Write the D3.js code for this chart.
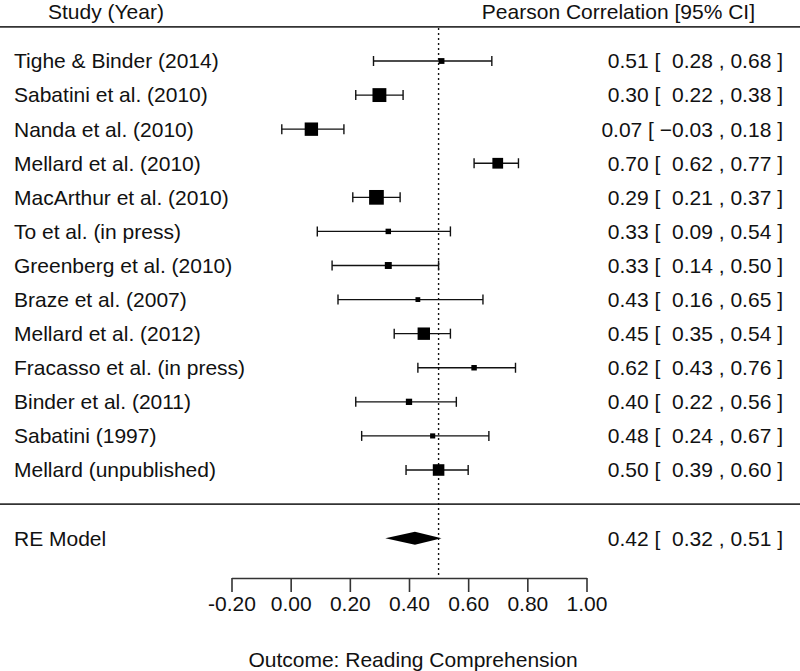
<!DOCTYPE html>
<html><head><meta charset="utf-8">
<script src="https://cdn.jsdelivr.net/npm/d3@7"></script>
<style>
body{margin:0;background:#fff;}
text{font-family:"Liberation Sans",Arial,sans-serif;fill:#111;}
</style></head><body>
<svg id="c" width="800" height="671"></svg>
<script>
const studies = ["Tighe & Binder (2014)","Sabatini et al. (2010)","Nanda et al. (2010)","Mellard et al. (2010)","MacArthur et al. (2010)","To et al. (in press)","Greenberg et al. (2010)","Braze et al. (2007)","Mellard et al. (2012)","Fracasso et al. (in press)","Binder et al. (2011)","Sabatini (1997)","Mellard (unpublished)"];
const estimates = [0.51,0.30,0.07,0.70,0.29,0.33,0.33,0.43,0.45,0.62,0.40,0.48,0.50];
const lowers = [0.28,0.22,-0.03,0.62,0.21,0.09,0.14,0.16,0.35,0.43,0.22,0.24,0.39];
const uppers = [0.68,0.38,0.18,0.77,0.37,0.54,0.50,0.65,0.54,0.76,0.56,0.67,0.60];
const weights = [5.6,10.5,10.2,8.6,11.0,5.4,6.3,5.0,9.6,5.4,5.9,5.2,9.1];
const summaryLabel = "RE Model";
const summary = {est:0.42, lo:0.32, hi:0.51};
const refValue = 0.5;
const tickValues = [-0.2,0,0.2,0.4,0.6,0.8,1.0];
const headerLeft = "Study (Year)";
const headerRight = "Pearson Correlation [95% CI]";
const xLabel = "Outcome: Reading Comprehension";

const svg = d3.select("#c");
const FS = 21;
const SP = FS * 0.278;
const x = d3.scaleLinear().domain([-0.2,1.0]).range([231.5,586.5]);
const y = d3.scaleLinear().domain([0,12]).range([61,470]);
const sz = d3.scaleLinear().domain([d3.min(weights),d3.max(weights)]).range([4.8,14.7]);
const fmtS = v => (v < 0 ? "\u2212" + Math.abs(v).toFixed(2) : v.toFixed(2));

svg.append("text").attr("x",48).attr("y",18.5).attr("font-size",FS).text(headerLeft);
svg.append("text").attr("x",755).attr("y",18.5).attr("text-anchor","end").attr("font-size",FS).text(headerRight);
svg.append("line").attr("x1",0).attr("x2",800).attr("y1",y(-1)).attr("y2",y(-1)).attr("stroke","#333").attr("stroke-width",1.6);
svg.append("line").attr("x1",0).attr("x2",800).attr("y1",y(13)).attr("y2",y(13)).attr("stroke","#333").attr("stroke-width",1.6);

svg.append("line").attr("x1",x(refValue)).attr("x2",x(refValue)).attr("y1",y(-1)+1).attr("y2",578)
  .attr("stroke","#111").attr("stroke-width",1.4).attr("stroke-dasharray","2,3");

const idx = d3.range(studies.length);
svg.selectAll("text.lab").data(idx).join("text").attr("class","lab")
  .attr("x",14).attr("y",i=>y(i)).attr("dy","0.35em").attr("font-size",FS).text(i=>studies[i]);

const g = svg.append("g").attr("stroke","#111").attr("stroke-width",1.4);
g.selectAll("line.ci").data(idx).join("line").attr("class","ci")
  .attr("x1",i=>x(lowers[i])).attr("x2",i=>x(uppers[i])).attr("y1",i=>y(i)).attr("y2",i=>y(i));
g.selectAll("line.cl").data(idx).join("line").attr("class","cl")
  .attr("x1",i=>x(lowers[i])).attr("x2",i=>x(lowers[i])).attr("y1",i=>y(i)-5).attr("y2",i=>y(i)+5);
g.selectAll("line.cu").data(idx).join("line").attr("class","cu")
  .attr("x1",i=>x(uppers[i])).attr("x2",i=>x(uppers[i])).attr("y1",i=>y(i)-5).attr("y2",i=>y(i)+5);
svg.selectAll("rect.pt").data(idx).join("rect").attr("class","pt")
  .attr("x",i=>x(estimates[i])-sz(weights[i])/2).attr("y",i=>y(i)-sz(weights[i])/2)
  .attr("width",i=>sz(weights[i])).attr("height",i=>sz(weights[i])).attr("fill","#000");

// annotation: tokens laid out right-to-left, mimicking a right-aligned padded string
function annot(yy, est, lo, hi){
  const t = svg.append("g").attr("font-size",FS);
  const toks = [
    {s:fmtS(est), gap:SP},
    {s:"[", gap:SP + (lo < 0 ? 0 : SP)},
    {s:fmtS(lo), gap:SP},
    {s:",", gap:SP},
    {s:fmtS(hi), gap:SP},
    {s:"]", gap:0}
  ];
  let xc = 783;
  for (let k = toks.length - 1; k >= 0; k--) {
    const el = t.append("text").attr("x",xc).attr("y",yy).attr("dy","0.35em").attr("text-anchor","end").text(toks[k].s);
    const w = el.node().getComputedTextLength();
    if (k > 0) xc -= w + toks[k-1].gap;
  }
}
idx.forEach(i=>annot(y(i),estimates[i],lowers[i],uppers[i]));

const ys = y(14);
svg.append("text").attr("x",14).attr("y",ys).attr("dy","0.35em").attr("font-size",FS).text(summaryLabel);
svg.append("path").attr("d",`M${x(summary.lo)},${ys}L${x(summary.est)},${ys-6.5}L${x(summary.hi)},${ys}L${x(summary.est)},${ys+6.5}Z`).attr("fill","#000");
annot(ys,summary.est,summary.lo,summary.hi);

const axis = d3.axisBottom(x).tickValues(tickValues).tickFormat(v => v.toFixed(2)).tickSize(14).tickSizeOuter(0);
const ag = svg.append("g").attr("transform","translate(0,578)").call(axis);
ag.select(".domain").attr("stroke","#333").attr("stroke-width",1.6);
ag.selectAll(".tick line").attr("stroke","#333").attr("stroke-width",1.6);
ag.selectAll(".tick text").attr("font-size",FS).attr("font-family","Liberation Sans, Arial, sans-serif").attr("fill","#111").attr("dy","0.95em").attr("y",13);

svg.append("text").attr("x",413).attr("y",660).attr("dy","0.35em").attr("text-anchor","middle").attr("font-size",FS).text(xLabel);
</script></body></html>
